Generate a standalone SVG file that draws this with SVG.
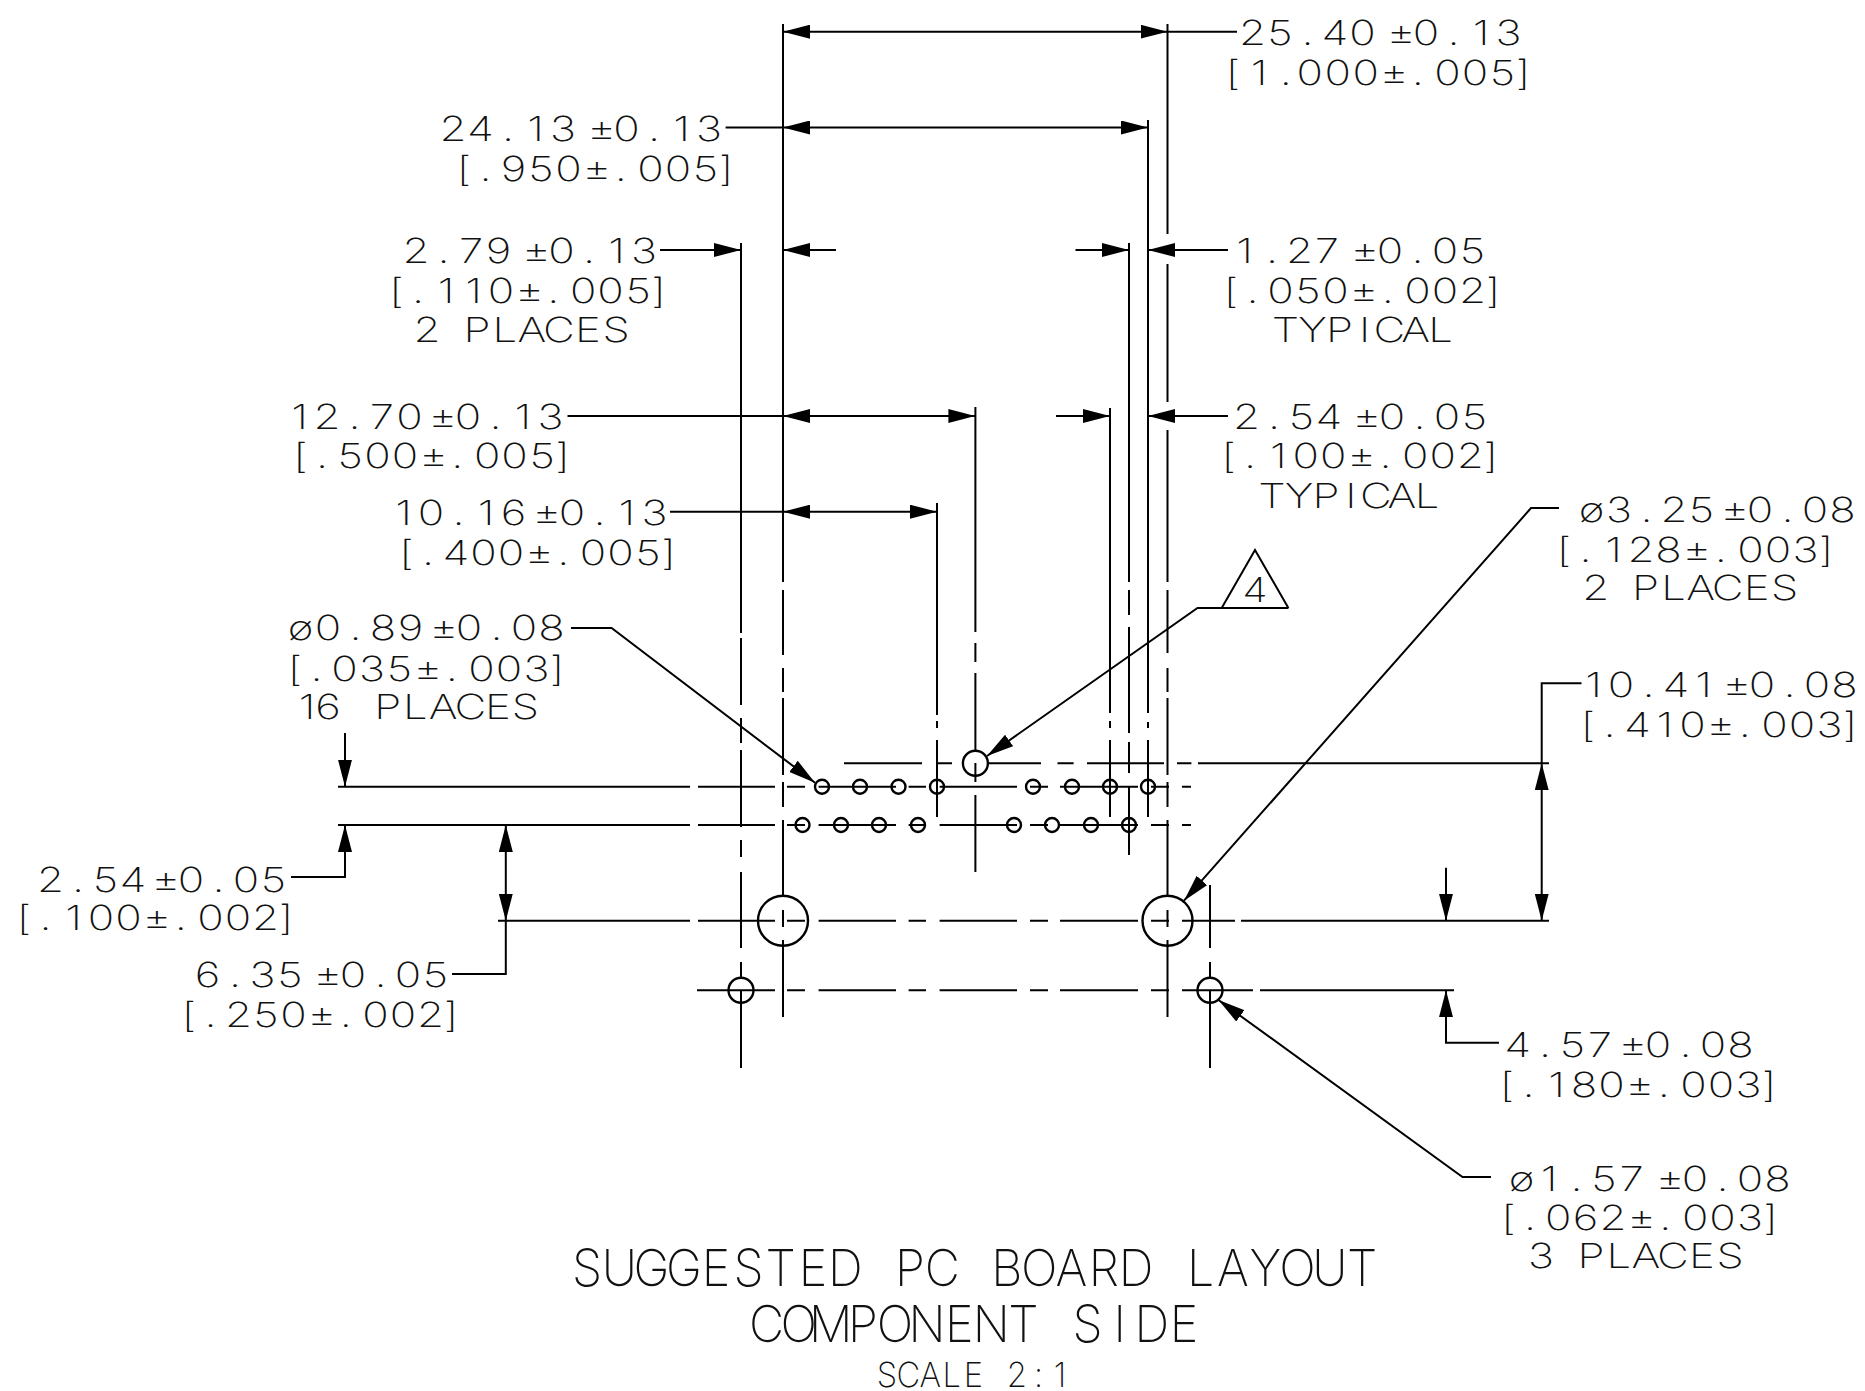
<svg xmlns="http://www.w3.org/2000/svg" width="1865" height="1391" viewBox="0 0 1865 1391">
<style>
text{font-family:"Inter","Liberation Sans",sans-serif;font-weight:200;fill:#111;font-size:34.5px;text-anchor:middle}
.b{font-size:51px}
.l{fill:none;stroke:#000;stroke-width:2}
.c{fill:none;stroke:#000;stroke-width:2.4}
.aa{marker-end:url(#h)}
.bb{marker-start:url(#h);marker-end:url(#h)}
</style>
<defs>
<marker id="h" viewBox="0 0 27 14" refX="27" refY="7" markerWidth="27" markerHeight="14" markerUnits="userSpaceOnUse" orient="auto-start-reverse"><polygon points="0,0 27,7 0,14" fill="#000"/></marker>
</defs>
<rect width="1865" height="1391" fill="#fff"/>
<g id="connectors" class="l">
<g id="extension-vertical">
<path d="M741 243V633M741 638V705M741 718V743M741 750V827M741 840V857M741 872V948M741 962V978M741 990V1068"/>
<path d="M783 24V582M783 590V655M783 668V692M783 698V775M783 782V807M783 820V897M783 910V927M783 940V1017"/>
<path d="M937 503V715M937 721V728M937 740V817"/>
<path d="M975.4 407V632M975.4 643V662M975.4 673V752M975.4 763V782M975.4 795V872"/>
<path d="M1110 408V713M1110 721V728M1110 740V817"/>
<path d="M1129 243V582M1129 590V615M1129 627V733M1129 742V773M1129 787V855"/>
<path d="M1148 120V713M1148 722V728M1148 740V817"/>
<path d="M1167.5 24V234M1167.5 264V402M1167.5 430V582M1167.5 590V653M1167.5 668V692M1167.5 698V775M1167.5 782V807M1167.5 820V897M1167.5 910V927M1167.5 940V1017"/>
<path d="M1210 885V948M1210 962V978M1210 990V1068"/>
</g>
<g id="extension-horizontal">
<path d="M844 763.3H922M936 763.3H952M988 763.3H1041M1057.5 763.3H1073.6M1087 763.3H1164M1177 763.3H1191.4M1198 763.3H1549"/>
<path d="M338 786.7H690M698 786.7H775M787 786.7H805M818.6 786.7H896M908.6 786.7H926M939.6 786.7H1017M1030 786.7H1048M1060 786.7H1138M1151 786.7H1169M1182 786.7H1191"/>
<path d="M338 825H690M698 825H775M787 825H805M818.6 825H896M908.6 825H926M939.6 825H1017M1030 825H1048M1060 825H1138M1151 825H1169M1182 825H1191"/>
<path d="M498 920.7H690M698 920.7H775M787 920.7H805M818.6 920.7H896M908.6 920.7H926M939.6 920.7H1017M1030 920.7H1048M1060 920.7H1138M1151 920.7H1169M1182 920.7H1235M1241 920.7H1549"/>
<path d="M697 990.3H775M787 990.3H805M818.6 990.3H896M908.6 990.3H926M939.6 990.3H1017M1030 990.3H1048M1060 990.3H1138M1151 990.3H1169M1182 990.3H1253M1260 990.3H1454"/>
</g>
<g id="dimensions">
<path class="bb" d="M783 31.7H1167.5"/><path d="M1167.5 31.7H1237"/>
<path class="bb" d="M783 127.5H1148"/><path d="M725.6 127.5H783"/>
<path class="aa" d="M660 250H741"/><path class="aa" d="M836 250H783"/><path class="aa" d="M1075.5 250H1129"/><path class="aa" d="M1228 250H1148"/>
<path class="bb" d="M783 416H975.4"/><path d="M567.5 416H783"/>
<path class="aa" d="M1056 416H1110"/><path class="aa" d="M1228 416H1148"/>
<path class="bb" d="M783 511.7H937"/><path d="M670 511.7H783"/>
<path class="aa" d="M345 733V786.7"/>
<path class="aa" d="M291 877H345V825"/>
<path class="bb" d="M505.8 825V920.7"/><path d="M452 974H505.8V920.7"/>
<path d="M1581.5 683.3H1541.7V763.3"/><path class="bb" d="M1541.7 763.3V920.7"/>
<path class="aa" d="M1446 867.7V920.7"/>
<path class="aa" d="M1499 1042.7H1446V990.3"/>
<path class="aa" d="M571 628H611.6L815 782.7"/>
<path class="aa" d="M1288.4 608H1197.5L987 756"/>
<path class="aa" d="M1559 508H1531L1184 900.7"/>
<path class="aa" d="M1491 1177H1462.5L1218.5 1000"/>
</g>
</g>
<g id="holes" class="c">
<circle id="hole-t1" cx="822" cy="786.7" r="7"/><circle id="hole-t2" cx="860" cy="786.7" r="7"/><circle id="hole-t3" cx="898.5" cy="786.7" r="7"/><circle id="hole-t4" cx="937" cy="786.7" r="7"/>
<circle id="hole-t5" cx="1033" cy="786.7" r="7"/><circle id="hole-t6" cx="1072" cy="786.7" r="7"/><circle id="hole-t7" cx="1110" cy="786.7" r="7"/><circle id="hole-t8" cx="1148" cy="786.7" r="7"/>
<circle id="hole-b1" cx="802.5" cy="825" r="7"/><circle id="hole-b2" cx="841" cy="825" r="7"/><circle id="hole-b3" cx="879" cy="825" r="7"/><circle id="hole-b4" cx="918" cy="825" r="7"/>
<circle id="hole-b5" cx="1014" cy="825" r="7"/><circle id="hole-b6" cx="1052" cy="825" r="7"/><circle id="hole-b7" cx="1091" cy="825" r="7"/><circle id="hole-b8" cx="1129" cy="825" r="7"/>
<circle id="hole-key" cx="975.4" cy="763.3" r="12.5"/>
<circle id="mount-l" cx="783" cy="920.7" r="25"/><circle id="mount-r" cx="1167.5" cy="920.7" r="25"/>
<circle id="peg-l" cx="741" cy="990.3" r="12.5"/><circle id="peg-r" cx="1210" cy="990.3" r="12.5"/>
</g>
<g id="note-4">
<path class="l" d="M1221.7 608L1255 550L1288.4 608"/>
<text transform="translate(1255 602) scale(1.2 1)">4</text>
</g>
<g id="labels">
<g id="d2540">
<text transform="translate(1241 44.5) scale(1.27 1)" x="9.1 30.7 52.4 74 95.7 110 126 145.7 167.3 189 210.6">25.40 ±0.13</text>
<text transform="translate(1226 85) scale(1.27 1)" x="5.5 26 47.2 66 88 110 132.3 151 174.4 196 217.7 233.9">[1.000±.005]</text>
</g>
<g id="d2413">
<text transform="translate(441.5 140.5) scale(1.27 1)" x="9.1 30.7 52.4 74 95.7 110 126 145.7 167.3 189 210.6">24.13 ±0.13</text>
<text transform="translate(457 181) scale(1.27 1)" x="5.5 22.4 44.5 66.1 87.8 110.2 129 152.4 174 195.7 211.8">[.950±.005]</text>
</g>
<g id="d279">
<text transform="translate(404.5 263) scale(1.27 1)" x="9.1 30.7 52.4 74 89 103.9 123.6 145.3 166.9 188.6">2.79 ±0.13</text>
<text transform="translate(389.6 303) scale(1.27 1)" x="5.5 22.4 44.5 66.1 87.8 110.2 129 152.4 174 195.7 211.8">[.110±.005]</text>
<text transform="translate(416 342) scale(1.27 1)" x="8.7 30 48 70 91.3 112.6 135.4 157.5">2 PLACES</text>
</g>
<g id="d1270">
<text transform="translate(288 429) scale(1.27 1)" x="9.1 30.7 52.4 74 95.7 106 122 141.7 163.4 185 206.7">12.70 ±0.13</text>
<text transform="translate(293.6 468) scale(1.27 1)" x="5.5 22.4 44.5 66.1 87.8 110.2 129 152.4 174 195.7 211.8">[.500±.005]</text>
</g>
<g id="d1016">
<text transform="translate(392 525) scale(1.27 1)" x="9.1 30.7 52.4 74 95.7 106 122 141.7 163.4 185 206.7">10.16 ±0.13</text>
<text transform="translate(399.5 565) scale(1.27 1)" x="5.5 22.4 44.5 66.1 87.8 110.2 129 152.4 174 195.7 211.8">[.400±.005]</text>
</g>
<g id="d127">
<text transform="translate(1233 263) scale(1.27 1)" x="9.1 30.7 52.4 74 89 103.9 123.6 145.3 166.9 188.6">1.27 ±0.05</text>
<text transform="translate(1224 303) scale(1.27 1)" x="5.5 22.4 44.5 66.1 87.8 110.2 129 152.4 174 195.7 211.8">[.050±.002]</text>
<text transform="translate(1272.6 342) scale(1.27 1)" x="10.2 31.5 52.8 72.4 92 112.6 132.3">TYPICAL</text>
</g>
<g id="d254t">
<text transform="translate(1235 429) scale(1.27 1)" x="9.1 30.7 52.4 74 89 103.9 123.6 145.3 166.9 188.6">2.54 ±0.05</text>
<text transform="translate(1221.7 468) scale(1.27 1)" x="5.5 22.4 44.5 66.1 87.8 110.2 129 152.4 174 195.7 211.8">[.100±.002]</text>
<text transform="translate(1259 508) scale(1.27 1)" x="10.2 31.5 52.8 72.4 92 112.6 132.3">TYPICAL</text>
</g>
<g id="d325">
<text transform="translate(1580 522) scale(1.27 1)" x="9.1 30.7 52.4 74 95.7 106 122 141.7 163.4 185 206.7">ø3.25 ±0.08</text>
<text transform="translate(1557 562) scale(1.27 1)" x="5.5 22.4 44.5 66.1 87.8 110.2 129 152.4 174 195.7 211.8">[.128±.003]</text>
<text transform="translate(1584.6 600) scale(1.27 1)" x="8.7 30 48 70 91.3 112.6 135.4 157.5">2 PLACES</text>
</g>
<g id="d089">
<text transform="translate(289 640) scale(1.27 1)" x="9.1 30.7 52.4 74 95.7 106 122 141.7 163.4 185 206.7">ø0.89 ±0.08</text>
<text transform="translate(288 681) scale(1.27 1)" x="5.5 22.4 44.5 66.1 87.8 110.2 129 152.4 174 195.7 211.8">[.035±.003]</text>
<text transform="translate(299 719) scale(1.27 1)" x="6.3 22.8 45 70 91.7 113.4 135 156.7 178.3">16 PLACES</text>
</g>
<g id="d254">
<text transform="translate(39 892) scale(1.27 1)" x="9.1 30.7 52.4 74 87 100 119.7 141.3 163 184.6">2.54 ±0.05</text>
<text transform="translate(17 930) scale(1.27 1)" x="5.5 22.4 44.5 66.1 87.8 110.2 129 152.4 174 195.7 211.8">[.100±.002]</text>
</g>
<g id="d635">
<text transform="translate(196 987) scale(1.27 1)" x="9.1 30.7 52.4 74 89 103.9 123.6 145.3 166.9 188.6">6.35 ±0.05</text>
<text transform="translate(182 1027) scale(1.27 1)" x="5.5 22.4 44.5 66.1 87.8 110.2 129 152.4 174 195.7 211.8">[.250±.002]</text>
</g>
<g id="d1041">
<text transform="translate(1582 697) scale(1.27 1)" x="9.1 30.7 52.4 74 95.7 106 122 141.7 163.4 185 206.7">10.41 ±0.08</text>
<text transform="translate(1581 737) scale(1.27 1)" x="5.5 22.4 44.5 66.1 87.8 110.2 129 152.4 174 195.7 211.8">[.410±.003]</text>
</g>
<g id="d457">
<text transform="translate(1506 1057) scale(1.27 1)" x="9.1 30.7 52.4 74 87 100 119.7 141.3 163 184.6">4.57 ±0.08</text>
<text transform="translate(1500 1097) scale(1.27 1)" x="5.5 22.4 44.5 66.1 87.8 110.2 129 152.4 174 195.7 211.8">[.180±.003]</text>
</g>
<g id="d157">
<text transform="translate(1510 1191) scale(1.27 1)" x="9.1 30.7 52.4 74 95.7 110 126 145.7 167.3 189 210.6">ø1.57 ±0.08</text>
<text transform="translate(1501.6 1230) scale(1.27 1)" x="5.5 22.4 44.5 66.1 87.8 110.2 129 152.4 174 195.7 211.8">[.062±.003]</text>
<text transform="translate(1530 1268) scale(1.27 1)" x="8.7 30 48 70 91.3 112.6 135.4 157.5">3 PLACES</text>
</g>
<g id="title">
<text class="b" transform="translate(571 1286) scale(.95 1)" x="16.8 50.8 84.8 118.8 152.8 186.8 220.8 254.8 288.8 322.8 356.8 390.8 424.8 458.8 492.8 526.8 560.8 594.8 628.8 662.8 696.8 730.8 764.8 798.8 832.8">SUGGESTED PC BOARD LAYOUT</text>
<text class="b" transform="translate(750.6 1342) scale(.95 1)" x="16.8 50.6 84.4 118.2 152 185.8 219.6 253.4 287.2 321 354.8 388.6 422.4 456.2">COMPONENT SIDE</text>
<text transform="translate(876 1387) scale(.95 1)" x="11.4 34.2 57 79.8 102.6 125.4 148.2 171 193.8">SCALE 2:1</text>
</g>
</g>
</svg>
